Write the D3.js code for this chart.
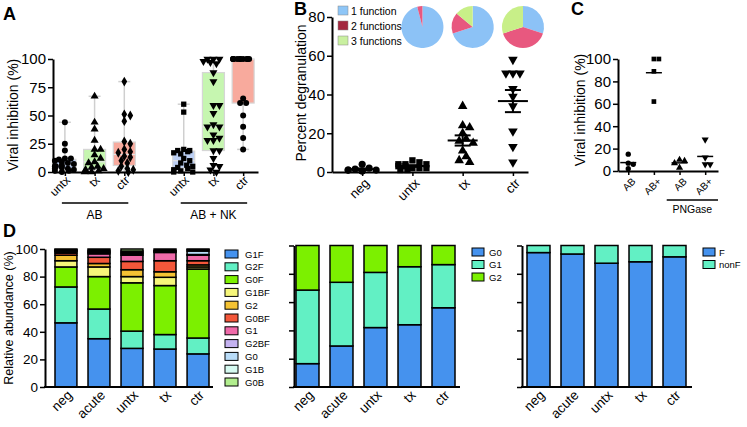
<!DOCTYPE html>
<html lang="en">
<head>
    <meta charset="UTF-8">
    <title>Viral inhibition and glycan profiles</title>
    <script src="https://d3js.org/d3.v7.min.js"></script>
    <style>
        body { margin: 0; background: #fff; }
        svg { font-family: "Liberation Sans", Arial, sans-serif; }
    </style>
</head>
<body>
    <div id="output"></div>

    <script>
        // ---- panel A data ----
        var aLabels = ["untx", "tx", "ctr", "untx", "tx", "ctr"];
        var aSlots = [0, 1, 2, 4, 5, 6];
        var abUntx = [44, 25, 19, 12, 12, 11, 10, 9, 8, 7, 6, 5, 5, 4, 3, 3, 2, 1, 1, 0];
        var abTx = [67, 44, 38, 28, 20, 20, 15, 12, 9, 8, 5, 4, 3, 2, 1, 0, 0];
        var abCtr = [80, 51, 50, 45, 27, 25, 20, 18, 17, 14, 13, 10, 8, 5, 3, 2, 1, 0];
        var nkUntx = [60, 53, 20, 19, 19, 18, 17, 16, 12, 10, 8, 6, 5, 4, 3, 2, 1, 0, 0];
        var nkTx = [100, 100, 100, 98, 97, 96, 88, 80, 59, 59, 52, 42, 40, 40, 33, 30, 28, 28, 19, 19, 12, 6, 5, 2, 0];
        var nkCtr = [100, 100, 100, 100, 100, 100, 100, 100, 100, 100, 65, 61, 61, 50, 40, 30, 20];
        var aTicks = [0, 25, 50, 75, 100];
        var aGroups = ["AB", "AB + NK"];

        // ---- panel B data ----
        var bLabels = ["neg", "untx", "tx", "ctr"];
        var bNeg = [2, 4, 1, 1, 0.5, 1.5, 0.5, 1];
        var bUntx = [4, 5, 3, 2, 6, 3, 1, 2, 4, 4, 1, 2];
        var bTx = [34, 24, 23, 20, 17, 16, 15, 11, 8, 5, 6];
        var bCtr = [58, 51, 51, 51, 43, 39, 34, 21, 13, 5];
        var bTicks = [0, 20, 40, 60, 80];
        var pieNames = ["1 function", "2 functions", "3 functions"];
        var pieOne = [96, 70, 30];
        var pieTwo = [4, 16, 40];
        var pieThree = [0, 14, 30];

        // ---- panel C data ----
        var cLabels = ["AB", "AB+", "AB", "AB+"];
        var cAB = [15, 7, 6, 2];
        var cABplus = [100, 100, 89, 62];
        var cPngAB = [10, 9, 7, 3];
        var cPngABplus = [28, 12, 6, 6];
        var cTicks = [0, 20, 40, 60, 80, 100];

        // ---- panel D data ----
        var dCats = ["neg", "acute", "untx", "tx", "ctr"];
        var glycans = ["G1F", "G2F", "G0F", "G1BF", "G2", "G0BF", "G1", "G2BF", "G0", "G1B", "G0B"];
        var glycanColors = ["#4592ee", "#62f0c4", "#7cf000", "#f6f67a", "#f4c233", "#f3573a",
                            "#ef6aa9", "#c4b2f0", "#b9dcf8", "#d6faf1", "#b2ee8e"];
        var g1f = [46.5, 35, 28, 27.5, 24];
        var g2f = [26, 21.5, 12.5, 10.5, 11.5];
        var g0f = [14.5, 23.5, 35, 35.5, 50];
        var g1bf = [4.5, 7, 4.5, 6, 1.5];
        var g2 = [4, 2.5, 5, 4, 1.5];
        var g0bf = [1.5, 4.5, 6, 8, 3];
        var g1 = [1, 2.5, 4.5, 6, 4];
        var g2bf = [0.5, 1, 1, 0.5, 0.5];
        var g0 = [0.5, 0.5, 1, 0.5, 2.5];
        var g1b = [0.5, 1, 1, 0.5, 1];
        var g0b = [0.5, 1, 1.5, 1, 0.5];
        var galKeys = ["G0", "G1", "G2"];
        var galG0 = [16.5, 29, 42, 44, 56];
        var galG1 = [52, 45, 39, 41, 30.5];
        var galG2 = [31.5, 26, 19, 15, 13.5];
        var fucKeys = ["F", "nonF"];
        var fucF = [95, 94, 87.5, 88.5, 92];
        var fucNon = [5, 6, 12.5, 11.5, 8];
        var dTicks = [0, 20, 40, 60, 80, 100];

        var svg = d3.select("#output").append("svg")
            .attr("width", 747)
            .attr("height", 427);

        // simple beeswarm: returns x offsets for each value
        function swarm(vals, y, diam, maxOff) {
            var placed = [];
            var off = new Array(vals.length);
            var order = vals.map(function(v, i) { return i; })
                .sort(function(a, b) { return vals[b] - vals[a]; });
            var step = diam / 2;
            order.forEach(function(i, n) {
                var py = y(vals[i]);
                var found = null;
                for (var k = 0; k < 60; k++) {
                    var dx = (k % 2 ? 1 : -1) * Math.ceil(k / 2) * step;
                    if (Math.abs(dx) > maxOff) continue;
                    var hit = placed.some(function(p) {
                        var ddx = p.x - dx, ddy = p.y - py;
                        return ddx * ddx + ddy * ddy < diam * diam * 0.8;
                    });
                    if (!hit) { found = dx; break; }
                }
                if (found === null) found = ((n * 7) % (2 * maxOff + 1)) - maxOff;
                off[i] = found;
                placed.push({ x: found, y: py });
            });
            return off;
        }

        function markerPath(type, size) {
            var t = { circle: d3.symbolCircle, square: d3.symbolSquare, diamond: d3.symbolDiamond,
                      up: d3.symbolTriangle, down: d3.symbolTriangle }[type];
            return d3.symbol().type(t).size(size)();
        }

        function drawPoints(g, vals, cx, y, type, size, diam, maxOff) {
            var off = swarm(vals, y, diam, maxOff);
            g.selectAll(null)
                .data(vals)
                .enter().append("path")
                .attr("d", markerPath(type, size))
                .attr("fill", "#000")
                .attr("transform", function(d, i) {
                    return "translate(" + (cx + off[i]) + "," + y(d) + ")" + (type === "down" ? " rotate(180)" : "");
                });
        }

        function styleAxis(g) {
            g.select(".domain").attr("stroke", "#000").attr("stroke-width", 2);
            g.selectAll(".tick line").attr("stroke", "#000").attr("stroke-width", 1.5);
            g.selectAll(".tick text").attr("fill", "#000").attr("font-family", "Liberation Sans, Arial, sans-serif");
        }

        function yAxis(x, y, ticks, fontSize, showLabels) {
            var g = svg.append("g")
                .attr("transform", "translate(" + x + ",0)")
                .call(d3.axisLeft(y).tickValues(ticks).tickSize(5).tickSizeOuter(0).tickPadding(2)
                    .tickFormat(showLabels ? d3.format("d") : ""));
            g.selectAll(".tick text").attr("font-size", fontSize);
            styleAxis(g);
        }

        function xAxis(x, yPos, slots) {
            var g = svg.append("g")
                .attr("transform", "translate(0," + yPos + ")")
                .call(d3.axisBottom(x).tickValues(slots).tickSize(4).tickSizeOuter(0).tickFormat(""));
            styleAxis(g);
        }

        // labels turned 45 degrees, their upper right corner just under the tick
        function rotatedLabels(labels, xs, yPos, fontSize, dx, dy) {
            svg.selectAll(null)
                .data(labels)
                .enter().append("text")
                .attr("transform", function(d, i) { return "translate(" + (xs[i] + dx) + "," + (yPos + dy) + ") rotate(-45)"; })
                .attr("text-anchor", "end")
                .attr("font-size", fontSize)
                .text(function(d) { return d; });
        }

        function yTitle(text, x, yc, fontSize) {
            svg.append("text")
                .attr("transform", "translate(" + x + "," + yc + ") rotate(-90)")
                .attr("text-anchor", "middle")
                .attr("font-size", fontSize)
                .text(text);
        }

        function panelLetter(t, x, y) {
            svg.append("text").attr("x", x).attr("y", y)
                .attr("font-size", 18).attr("font-weight", "bold").text(t);
        }

        // ================= Panel A =================
        var yA = d3.scaleLinear().domain([0, 100]).range([172, 59]);
        var xA = d3.scaleLinear().domain([-0.4, 6.5]).range([53, 258]);
        var aData = [abUntx, abTx, abCtr, nkUntx, nkTx, nkCtr];
        var aMarks = ["circle", "up", "diamond", "square", "down", "circle"];
        var aFill = ["#bccff3", "#c6f6b0", "#f8aa9d", "#bccff3", "#c6f6b0", "#f8aa9d"];
        var gA = svg.append("g");

        aData.forEach(function(vals, i) {
            var s = vals.slice().sort(d3.ascending);
            var q1 = d3.quantile(s, 0.25), med = d3.quantile(s, 0.5), q3 = d3.quantile(s, 0.75);
            var lo = d3.min(s), hi = d3.max(s);
            var cx = xA(aSlots[i]);
            gA.append("line").attr("x1", cx).attr("x2", cx).attr("y1", yA(lo)).attr("y2", yA(hi))
                .attr("stroke", "#cfcfcf").attr("stroke-width", 1.5);
            [lo, hi].forEach(function(v) {
                gA.append("line").attr("x1", cx - 6).attr("x2", cx + 6).attr("y1", yA(v)).attr("y2", yA(v))
                    .attr("stroke", "#cfcfcf").attr("stroke-width", 1.5);
            });
            gA.append("rect").attr("x", cx - 11).attr("width", 22)
                .attr("y", yA(q3)).attr("height", yA(q1) - yA(q3))
                .attr("fill", aFill[i]).attr("stroke", "#d6d6d6").attr("stroke-width", 1.2);
            gA.append("line").attr("x1", cx - 11).attr("x2", cx + 11).attr("y1", yA(med)).attr("y2", yA(med))
                .attr("stroke", "#e4e4e4").attr("stroke-width", 1.2);
        });
        aData.forEach(function(vals, i) {
            drawPoints(gA, vals, xA(aSlots[i]), yA, aMarks[i], 28, 6, 10);
        });

        yAxis(53, yA, aTicks, 15, true);
        xAxis(xA, 172, aSlots);
        rotatedLabels(aLabels, aSlots.map(xA), 172, 12, 6, 9);
        yTitle("Viral inhibition (%)", 18, 115, 14);

        // group lines below the labels
        [[0, 2], [4, 6]].forEach(function(r, i) {
            svg.append("line").attr("x1", xA(r[0]) - 3).attr("x2", xA(r[1]) + 4)
                .attr("y1", 203).attr("y2", 203).attr("stroke", "#000").attr("stroke-width", 1.5);
            svg.append("text").attr("x", (xA(r[0]) + xA(r[1])) / 2).attr("y", 219)
                .attr("text-anchor", "middle").attr("font-size", 12).text(aGroups[i]);
        });
        panelLetter("A", 3, 20);

        // ================= Panel B =================
        var yB = d3.scaleLinear().domain([0, 80]).range([172, 17]);
        var xB = d3.scaleLinear().domain([-0.6, 3.3]).range([332, 528]);
        var bSlots = [0, 1, 2, 3];
        var bData = [bNeg, bUntx, bTx, bCtr];
        var bMarks = ["circle", "square", "up", "down"];
        var gB = svg.append("g");

        bData.forEach(function(vals, i) {
            var cx = xB(i);
            var m = d3.mean(vals);
            var sem = d3.deviation(vals) / Math.sqrt(vals.length);
            drawPoints(gB, vals, cx, yB, bMarks[i], 40, 7, 16);
            gB.append("line").attr("x1", cx - 15).attr("x2", cx + 15).attr("y1", yB(m)).attr("y2", yB(m))
                .attr("stroke", "#000").attr("stroke-width", 2);
            gB.append("line").attr("x1", cx).attr("x2", cx).attr("y1", yB(m - sem)).attr("y2", yB(m + sem))
                .attr("stroke", "#000").attr("stroke-width", 2);
            [m - sem, m + sem].forEach(function(v) {
                gB.append("line").attr("x1", cx - 8).attr("x2", cx + 8).attr("y1", yB(v)).attr("y2", yB(v))
                    .attr("stroke", "#000").attr("stroke-width", 2);
            });
        });

        yAxis(332, yB, bTicks, 15, true);
        xAxis(xB, 172, bSlots);
        rotatedLabels(bLabels, bSlots.map(xB), 172, 13, 8, 12);
        yTitle("Percent degranulation", 306, 93, 14);
        panelLetter("B", 294, 15);

        // pies for untx, tx, ctr
        var pieColors = ["#8cc2f6", "#e8587f", "#c8ef88"];
        var swatchColors = ["#8ec6f7", "#a3283f", "#c9f0a0"];
        var pie = d3.pie().sort(null);
        var arc = d3.arc().innerRadius(0).outerRadius(21);
        pieOne.forEach(function(v, i) {
            var g = svg.append("g").attr("transform", "translate(" + xB(i + 1.2) + ",27)");
            g.selectAll("path")
                .data(pie([pieOne[i], pieTwo[i], pieThree[i]]))
                .enter().append("path")
                .attr("d", arc)
                .attr("fill", function(d, j) { return pieColors[j]; });
        });
        pieNames.forEach(function(n, i) {
            svg.append("rect").attr("x", 338).attr("y", 6 + i * 15).attr("width", 10).attr("height", 9)
                .attr("fill", swatchColors[i]).attr("stroke", "#888").attr("stroke-width", 0.5);
            svg.append("text").attr("x", 351).attr("y", 14.5 + i * 15).attr("font-size", 10.5).text(n);
        });

        // ================= Panel C =================
        var yC = d3.scaleLinear().domain([0, 100]).range([171, 59]);
        var xC = d3.scaleLinear().domain([-0.4, 3.5]).range([618, 718]);
        var cSlots = [0, 1, 2, 3];
        var cData = [cAB, cABplus, cPngAB, cPngABplus];
        var cMarks = ["circle", "square", "up", "down"];
        var gC = svg.append("g");
        cData.forEach(function(vals, i) {
            var cx = xC(i);
            var m = d3.mean(vals);
            drawPoints(gC, vals, cx, yC, cMarks[i], 22, 5, 9);
            gC.append("line").attr("x1", cx - 8).attr("x2", cx + 8).attr("y1", yC(m)).attr("y2", yC(m))
                .attr("stroke", "#000").attr("stroke-width", 1.5);
        });
        yAxis(618, yC, cTicks, 15, true);
        xAxis(xC, 171, cSlots);
        rotatedLabels(cLabels, cSlots.map(xC), 171, 10, 8, 11);
        yTitle("Viral inhibition (%)", 585, 110, 14);
        svg.append("line").attr("x1", xC(1.5)).attr("x2", 718).attr("y1", 200).attr("y2", 200)
            .attr("stroke", "#000").attr("stroke-width", 1.5);
        svg.append("text").attr("x", (xC(1.5) + 718) / 2).attr("y", 213)
            .attr("text-anchor", "middle").attr("font-size", 10.5).text("PNGase");
        panelLetter("C", 571, 15);

        // ================= Panel D =================
        function stackPanel(cfg) {
            var y = d3.scaleLinear().domain([0, 100]).range([387, cfg.top]);
            var x = d3.scaleBand().domain(dCats).range([cfg.barStart, cfg.barEnd]).paddingInner(cfg.pad).paddingOuter(0);
            var rows = dCats.map(function(c, i) {
                var r = { cat: c };
                cfg.keys.forEach(function(k, j) { r[k] = cfg.series[j][i]; });
                return r;
            });
            var series = d3.stack().keys(cfg.keys)(rows);
            svg.append("g").selectAll("g")
                .data(series)
                .enter().append("g")
                .attr("fill", function(d, j) { return cfg.colors[j]; })
                .selectAll("rect")
                .data(function(d) { return d; })
                .enter().append("rect")
                .attr("x", function(d) { return x(d.data.cat); })
                .attr("width", x.bandwidth())
                .attr("y", function(d) { return y(d[1]); })
                .attr("height", function(d) { return y(d[0]) - y(d[1]); })
                .attr("stroke", "#000")
                .attr("stroke-width", 1.5);

            yAxis(cfg.axisX, y, dTicks, 13.5, cfg.labels);
            svg.append("line").attr("x1", cfg.axisX - 1).attr("x2", cfg.axisEnd).attr("y1", 387).attr("y2", 387)
                .attr("stroke", "#000").attr("stroke-width", 2);
            rotatedLabels(dCats, dCats.map(function(c) { return x(c) + x.bandwidth() / 2; }), 387, 13.5, 7, 9);

            // legend
            cfg.keys.forEach(function(k, j) {
                var cy = cfg.legY + j * cfg.legStep;
                svg.append("rect").attr("x", cfg.legX).attr("y", cy - 4).attr("width", cfg.legW).attr("height", 8)
                    .attr("fill", cfg.colors[j]).attr("stroke", "#000").attr("stroke-width", 1);
                svg.append("text").attr("x", cfg.legX + cfg.legW + cfg.legGap).attr("y", cy + 3.5)
                    .attr("font-size", 9.5).text(k);
            });
        }

        stackPanel({
            keys: glycans, colors: glycanColors,
            series: [g1f, g2f, g0f, g1bf, g2, g0bf, g1, g2bf, g0, g1b, g0b],
            top: 249, barStart: 55, barEnd: 209, pad: 0.336, axisX: 45, axisEnd: 213, labels: true,
            legX: 225, legY: 254, legStep: 12.8, legW: 13, legGap: 7
        });
        stackPanel({
            keys: galKeys, colors: ["#4592ee", "#62f0c4", "#7cf000"],
            series: [galG0, galG1, galG2],
            top: 245.5, barStart: 296, barEnd: 455, pad: 0.324, axisX: 294, axisEnd: 460, labels: false,
            legX: 472, legY: 252, legStep: 12.5, legW: 12, legGap: 5
        });
        stackPanel({
            keys: fucKeys, colors: ["#4592ee", "#62f0c4"],
            series: [fucF, fucNon],
            top: 245.5, barStart: 527, barEnd: 686, pad: 0.324, axisX: 522, axisEnd: 692, labels: false,
            legX: 703, legY: 252, legStep: 12.5, legW: 12, legGap: 4
        });
        yTitle("Relative abundance (%)", 13, 318, 12.5);
        panelLetter("D", 3, 237);
    </script>
</body>
</html>
